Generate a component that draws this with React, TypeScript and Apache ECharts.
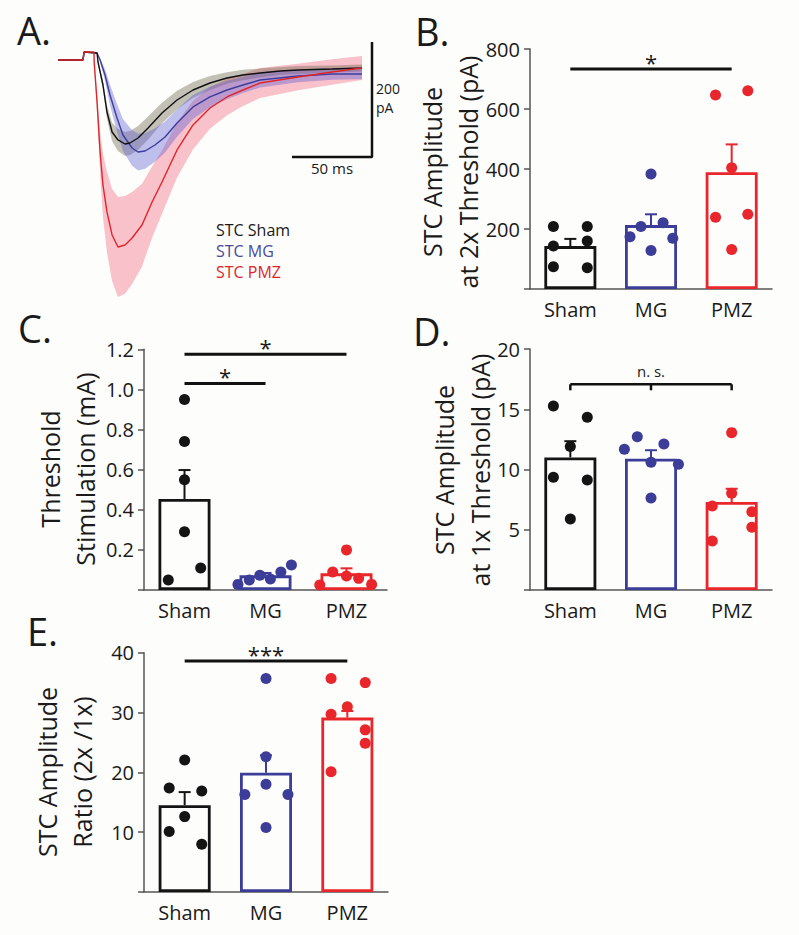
import React, { useEffect, useRef } from 'react';
import * as echarts from 'echarts';

// ---------- Panel A: averaged STC traces (time in ms, current in pA) ----------
const tSham = [0, 15.6, 16.3, 24.4, 25, 28.1, 30.6, 33.8, 37.5, 41.9, 45, 50, 56.3, 65, 74.4, 84.4, 95, 105.6, 115.6, 126.3, 138.8, 150, 171.3, 190];
const iSham = [0, 0, 13.9, 12.2, -3.5, -43.5, -90.4, -125.2, -139.1, -146.1, -144.3, -135.7, -118.3, -92.2, -69.6, -52.2, -40, -31.3, -26.1, -22.6, -19.1, -17.4, -15.7, -13.9];
const semSham = [0, 0, 0, 0, 2, 8, 12, 16, 19, 21, 21, 21, 20, 18, 16, 14, 12, 10, 9, 8, 7, 7, 6, 6];

const tMG = [0, 15.6, 16.3, 24.4, 26.3, 29.4, 32.5, 36.9, 40.6, 46.3, 50, 54.4, 60.6, 66.9, 74.4, 84.4, 95, 105.6, 115.6, 126.3, 150, 171.3, 190];
const iMG = [0, 0, 13.9, 12.2, 0, -26.1, -60.9, -100.9, -130.4, -153, -160, -158.3, -147.8, -133.9, -109.6, -81.7, -64.3, -52.2, -43.5, -34.8, -27.8, -24.3, -24.3];
const semMG = [0, 0, 0, 0, 3, 10, 18, 24, 28, 31, 32, 31, 29, 27, 24, 21, 18, 16, 14, 13, 11, 10, 9];

const tPMZ = [0, 15.6, 16.3, 22.5, 22.6, 24.4, 26.3, 28.1, 30.6, 33.8, 37.5, 41.9, 46.3, 52.5, 58.8, 65, 74.4, 84.4, 95, 105.6, 115.6, 126.3, 150, 171.3, 190];
const iPMZ = [0, 0, 13.9, 13.9, -3.5, -73, -160, -217.4, -264.3, -304.3, -325.2, -321.7, -309.6, -287, -247, -212.2, -156.5, -113, -83.5, -64.3, -52.2, -40, -29.6, -20.9, -13.9];
const semPMZ = [0, 0, 0, 0, 3, 15, 35, 55, 70, 80, 87, 85, 80, 72, 62, 55, 48, 42, 36, 32, 28, 26, 23, 22, 21];

const traceLegend = ['STC Sham', 'STC MG', 'STC PMZ'];
const scaleBarMs = 50;
const scaleBarPA = 200;
const scaleBarCornerT = 196.25;
const scaleBarCornerI = -168.7;

// ---------- Bar panels ----------
const groups = ['Sham', 'MG', 'PMZ'];

// B: STC amplitude at 2x threshold (pA)
const bMeans = [143, 213, 389];
const bSem = [24, 36, 93];
const bSham = [208, 208, 143, 160, 74, 71];
const bMG = [174, 208, 383, 221, 169, 128];
const bPMZ = [647, 661, 404, 239, 249, 132];
const bSig = [[0, 2, 733]];
const bSigLabels = ['*'];

// C: threshold stimulation (mA)
const cMeans = [0.454, 0.073, 0.083];
const cSem = [0.144, 0.012, 0.025];
const cSham = [0.95, 0.74, 0.55, 0.29, 0.11, 0.05];
const cMG = [0.028, 0.05, 0.073, 0.055, 0.09, 0.125];
const cPMZ = [0.025, 0.09, 0.2, 0.07, 0.058, 0.028];
const cSig = [[0, 2, 1.175], [0, 1, 1.03]];
const cSigLabels = ['*', '*'];

// D: STC amplitude at 1x threshold (pA)
const dMeans = [11.0, 10.9, 7.3];
const dSem = [1.35, 0.7, 1.1];
const dSham = [15.27, 14.33, 11.9, 9.35, 9.13, 5.9];
const dMG = [11.68, 12.72, 12.12, 10.6, 10.43, 7.63];
const dPMZ = [13.06, 8.02, 6.97, 6.5, 5.2, 4.07];
const dSig = [[0, 2, 17.07]];
const dSigLabels = ['n. s.'];

// E: amplitude ratio (2x / 1x)
const eMeans = [14.5, 19.95, 29.15];
const eSem = [2.2, 2.9, 1.1];
const eSham = [22.07, 17.4, 16.9, 12.6, 10.1, 7.97];
const eMG = [35.67, 22.6, 18.0, 16.3, 16.3, 10.8];
const ePMZ = [35.67, 35.0, 30.98, 29.7, 27.1, 24.87, 20.1];
const eSig = [[0, 2, 38.6]];
const eSigLabels = ['***'];

// layout: horizontal jitter of the dots (category units)
const jitB = [[-0.21, 0.21, -0.21, 0.21, -0.21, 0.21], [-0.26, -0.125, 0, 0.15, 0.27, 0], [-0.2, 0.2, 0, -0.2, 0.2, 0]];
const jitC = [[0, 0, 0, 0, 0.2, -0.2], [-0.34, -0.2, -0.07, 0.06, 0.19, 0.32], [-0.33, -0.17, 0, 0, 0.15, 0.31]];
const jitD = [[-0.21, 0.21, 0, -0.21, 0.21, 0], [-0.33, -0.17, 0.16, 0, 0.34, 0], [0, 0, -0.24, 0.25, 0.25, -0.24]];
const jitE = [[0, -0.19, 0.21, 0, -0.19, 0.21], [0, 0, 0, -0.26, 0.27, 0], [-0.2, 0.22, 0, -0.2, 0.22, 0.22, -0.2]];

const COLORS = ['#141414', '#3c3c99', '#e8262b'];
const TRACE_COLORS = ['#111111', '#3d3d9e', '#e0252a'];
const BAND_COLORS = ['rgba(100,95,70,0.38)', 'rgba(90,90,210,0.38)', 'rgba(240,80,110,0.35)'];
const FONT = '"Open Sans", "DejaVu Sans", sans-serif';
const AXIS_COLOR = '#555';
const TEXT = '#1a1a1a';

function bandRenderer(t: number[], m: number[], s: number[], fill: string) {
  return (params: any, api: any) => {
    if (params.dataIndex !== 0) return null;
    const upper = t.map((x, i) => api.coord([x, m[i] + s[i]]));
    const lower = t.map((x, i) => api.coord([x, m[i] - s[i]])).reverse();
    return { type: 'polygon', shape: { points: upper.concat(lower) }, style: { fill } };
  };
}

function errRenderer(colors: string[]) {
  return (params: any, api: any) => {
    const x = api.value(0);
    const p0 = api.coord([x, api.value(1)]);
    const p1 = api.coord([x, api.value(2)]);
    const c = colors[params.dataIndex];
    return {
      type: 'group',
      children: [
        { type: 'line', shape: { x1: p0[0], y1: p0[1], x2: p1[0], y2: p1[1] }, style: { stroke: c, lineWidth: 2 } },
        { type: 'line', shape: { x1: p1[0] - 6, y1: p1[1], x2: p1[0] + 6, y2: p1[1] }, style: { stroke: c, lineWidth: 2 } },
      ],
    };
  };
}

function sigRenderer(labels: string[], bracket: boolean, fontSize: number, textGap: number) {
  return (params: any, api: any) => {
    const x1 = api.value(0);
    const x2 = api.value(1);
    const y = api.value(2);
    const a = api.coord([x1, y]);
    const b = api.coord([x2, y]);
    const children: any[] = [
      { type: 'line', shape: { x1: a[0], y1: a[1], x2: b[0], y2: b[1] }, style: { stroke: '#111', lineWidth: bracket ? 2.5 : 3 } },
    ];
    const mid = (a[0] + b[0]) / 2;
    if (bracket) {
      [a[0], mid, b[0]].forEach((x) => {
        children.push({ type: 'line', shape: { x1: x, y1: a[1], x2: x, y2: a[1] + 6 }, style: { stroke: '#111', lineWidth: 2.5 } });
      });
    }
    children.push({
      type: 'text',
      x: mid,
      y: a[1] - textGap,
      style: {
        text: labels[params.dataIndex],
        font: `${fontSize}px ${FONT}`,
        fill: TEXT,
        align: 'center',
        verticalAlign: 'middle',
        textAlign: 'center',
        textVerticalAlign: 'middle',
      },
    });
    return { type: 'group', children };
  };
}

type Panel = {
  grid: { left: number; top: number; width: number; height: number };
  max: number;
  interval: number;
  decimals: number;
  means: number[];
  sem: number[];
  points: number[][];
  jitter: number[][];
  sig: number[][];
  sigLabels: string[];
  bracket: boolean;
  sigFont: number;
  sigGap: number;
};

const panels: Panel[] = [
  { grid: { left: 530, top: 49, width: 242, height: 240 }, max: 800, interval: 200, decimals: 0, means: bMeans, sem: bSem, points: [bSham, bMG, bPMZ], jitter: jitB, sig: bSig, sigLabels: bSigLabels, bracket: false, sigFont: 22, sigGap: 7 },
  { grid: { left: 144, top: 349.3, width: 243, height: 240.7 }, max: 1.2, interval: 0.2, decimals: 1, means: cMeans, sem: cSem, points: [cSham, cMG, cPMZ], jitter: jitC, sig: cSig, sigLabels: cSigLabels, bracket: false, sigFont: 22, sigGap: 7 },
  { grid: { left: 530, top: 349, width: 242, height: 241 }, max: 20, interval: 5, decimals: 0, means: dMeans, sem: dSem, points: [dSham, dMG, dPMZ], jitter: jitD, sig: dSig, sigLabels: dSigLabels, bracket: true, sigFont: 15, sigGap: 13 },
  { grid: { left: 144, top: 652.7, width: 244, height: 239.3 }, max: 40, interval: 10, decimals: 0, means: eMeans, sem: eSem, points: [eSham, eMG, ePMZ], jitter: jitE, sig: eSig, sigLabels: eSigLabels, bracket: false, sigFont: 22, sigGap: 7 },
];

function buildOption() {
  const grids: any[] = [{ left: 58, top: 37, width: 320, height: 264.5 }];
  const xAxes: any[] = [{ type: 'value', gridIndex: 0, min: 0, max: 200, show: false }];
  const yAxes: any[] = [{ type: 'value', gridIndex: 0, min: -420, max: 40, show: false }];
  const series: any[] = [];

  // Panel A bands
  const traces = [
    [tPMZ, iPMZ, semPMZ, 2],
    [tSham, iSham, semSham, 0],
    [tMG, iMG, semMG, 1],
  ] as [number[], number[], number[], number][];
  traces.forEach(([t, m, s, ci]) => {
    series.push({
      type: 'custom', xAxisIndex: 0, yAxisIndex: 0, data: [[0, 0]], z: 1, silent: true,
      renderItem: bandRenderer(t, m, s, BAND_COLORS[ci]),
    });
  });
  [[tMG, iMG, 1], [tSham, iSham, 0], [tPMZ, iPMZ, 2]].forEach(([t, m, ci]: any) => {
    series.push({
      type: 'line', xAxisIndex: 0, yAxisIndex: 0, symbol: 'none', z: 3,
      data: t.map((x: number, i: number) => [x, m[i]]),
      lineStyle: { color: TRACE_COLORS[ci], width: 1.4 },
    });
  });
  series.push({
    type: 'line', xAxisIndex: 0, yAxisIndex: 0, symbol: 'none', z: 4,
    data: [
      [scaleBarCornerT - scaleBarMs, scaleBarCornerI],
      [scaleBarCornerT, scaleBarCornerI],
      [scaleBarCornerT, scaleBarCornerI + scaleBarPA],
    ],
    lineStyle: { color: '#111', width: 2.5 },
  });

  panels.forEach((p, k) => {
    const gi = k + 1;
    grids.push(p.grid);
    const catIdx = xAxes.length;
    xAxes.push({
      type: 'category', gridIndex: gi, data: groups,
      axisLine: { onZero: false, lineStyle: { color: AXIS_COLOR, width: 1.5 } },
      axisTick: { alignWithLabel: true, length: 6, lineStyle: { color: AXIS_COLOR, width: 1.5 } },
      axisLabel: { color: TEXT, fontSize: 20, fontFamily: FONT, margin: 10 },
    });
    const valIdx = xAxes.length;
    xAxes.push({ type: 'value', gridIndex: gi, min: -0.5, max: 2.5, show: false, axisLine: { onZero: false } });
    const yIdx = yAxes.length;
    yAxes.push({
      type: 'value', gridIndex: gi, min: 0, max: p.max, interval: p.interval,
      axisLine: { show: true, onZero: false, lineStyle: { color: AXIS_COLOR, width: 1.5 } },
      axisTick: { show: true, length: 6, lineStyle: { color: AXIS_COLOR, width: 1.5 } },
      splitLine: { show: false },
      axisLabel: {
        color: TEXT, fontSize: 20, fontFamily: FONT, margin: 10,
        formatter: (v: number) => (v === 0 ? '' : v.toFixed(p.decimals)),
      },
    });
    series.push({
      type: 'bar', xAxisIndex: catIdx, yAxisIndex: yIdx, barWidth: 52, z: 2,
      data: p.means.map((v, i) => ({ value: v, itemStyle: { color: '#fdfdfb', borderColor: COLORS[i], borderWidth: 2.8 } })),
    });
    series.push({
      type: 'custom', xAxisIndex: valIdx, yAxisIndex: yIdx, z: 3,
      data: p.means.map((m, i) => [i, m, m + p.sem[i]]),
      renderItem: errRenderer(COLORS),
    });
    p.points.forEach((pts, i) => {
      series.push({
        type: 'scatter', xAxisIndex: valIdx, yAxisIndex: yIdx, z: 4, symbolSize: 11,
        itemStyle: { color: COLORS[i], opacity: 1 },
        data: pts.map((v, j) => [i + p.jitter[i][j], v]),
      });
    });
    series.push({
      type: 'custom', xAxisIndex: valIdx, yAxisIndex: yIdx, z: 5,
      data: p.sig,
      renderItem: sigRenderer(p.sigLabels, p.bracket, p.sigFont, p.sigGap),
    });
  });

  const txt = (text: string, x: number, y: number, size: number, opts: any = {}) => ({
    type: 'text', x, y, rotation: opts.rotation || 0, z: 10,
    style: {
      text, font: `${size}px ${FONT}`, fill: opts.fill || TEXT,
      align: opts.align || 'left', textAlign: opts.align || 'left',
      verticalAlign: 'middle', textVerticalAlign: 'middle',
    },
  });

  const graphic: any[] = [
    txt('A.', 17, 30, 38),
    txt('B.', 415, 31, 38),
    txt('C.', 18, 328, 38),
    txt('D.', 413, 331, 38),
    txt('E.', 27, 631, 38),
    // Y titles
    txt('STC Amplitude', 432, 172, 25, { rotation: Math.PI / 2, align: 'center' }),
    txt('at 2x Threshold (pA)', 468, 172, 25, { rotation: Math.PI / 2, align: 'center' }),
    txt('Threshold', 50, 469, 25, { rotation: Math.PI / 2, align: 'center' }),
    txt('Stimulation (mA)', 85, 469, 25, { rotation: Math.PI / 2, align: 'center' }),
    txt('STC Amplitude', 444, 470, 25, { rotation: Math.PI / 2, align: 'center' }),
    txt('at 1x Threshold (pA)', 480, 470, 25, { rotation: Math.PI / 2, align: 'center' }),
    txt('STC Amplitude', 47, 772, 25, { rotation: Math.PI / 2, align: 'center' }),
    txt('Ratio (2x /1x)', 82, 772, 25, { rotation: Math.PI / 2, align: 'center' }),
    // Panel A legend
    txt(traceLegend[0], 216, 230, 16, { fill: '#1a1a1a' }),
    txt(traceLegend[1], 216, 251, 16, { fill: '#4a4a9c' }),
    txt(traceLegend[2], 216, 272, 16, { fill: '#e0252a' }),
    // scale bar labels
    txt(String(scaleBarPA), 376, 88, 14),
    txt('pA', 376, 107, 14),
    txt(`${scaleBarMs} ms`, 332, 168, 15, { align: 'center' }),
  ];

  return {
    animation: false,
    backgroundColor: '#fdfdfb',
    textStyle: { fontFamily: FONT },
    grid: grids,
    xAxis: xAxes,
    yAxis: yAxes,
    series,
    graphic,
  };
}

export default function App() {
  const ref = useRef<HTMLDivElement>(null);
  useEffect(() => {
    if (!ref.current) return;
    const chart = echarts.init(ref.current, undefined, { renderer: 'svg' });
    chart.setOption(buildOption() as any);
    return () => chart.dispose();
  }, []);
  return (
    <div
      ref={ref}
      style={{ position: 'absolute', left: 0, top: 0, width: 799, height: 935, background: '#fdfdfb' }}
    />
  );
}
